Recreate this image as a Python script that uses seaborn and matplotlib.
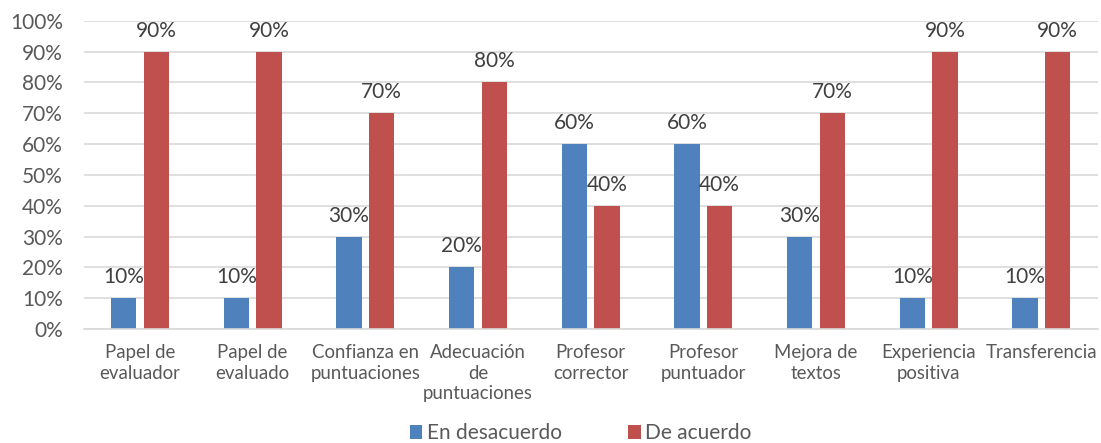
import matplotlib
matplotlib.use("Agg")
import matplotlib.pyplot as plt
import seaborn as sns
import pandas as pd
from matplotlib.ticker import PercentFormatter

categories = ["Papel de\nevaluador", "Papel de\nevaluado", "Confianza en\npuntuaciones",
              "Adecuación\nde\npuntuaciones", "Profesor\ncorrector", "Profesor\npuntuador",
              "Mejora de\ntextos", "Experiencia\npositiva", "Transferencia"]
en_desacuerdo = [10, 10, 30, 20, 60, 60, 30, 10, 10]
de_acuerdo = [90, 90, 70, 80, 40, 40, 70, 90, 90]
series_names = ["En desacuerdo", "De acuerdo"]
colors = ["#4F81BD", "#C0504D"]

df = pd.DataFrame({
    "categoria": categories * 2,
    "serie": [series_names[0]] * len(categories) + [series_names[1]] * len(categories),
    "valor": en_desacuerdo + de_acuerdo,
})

sns.set_theme(style="white")
plt.rcParams["font.family"] = ["Lato", "DejaVu Sans"]
text_color = "#595959"
fs = 15

fig = plt.figure(figsize=(11.01, 4.43), dpi=100)
ax = fig.add_axes([0.076, 0.257, 0.921, 0.696])

sns.barplot(data=df, x="categoria", y="valor", hue="serie", palette=colors,
            width=0.58, gap=0.22, ax=ax, saturation=1, legend=True, linewidth=0)

for container in ax.containers:
    ax.bar_label(container, labels=[f"{v:.0f}%" for v in container.datavalues],
                 padding=8, fontsize=fs, color="#404040")

ax.set_ylim(0, 100)
ax.set_yticks(range(0, 101, 10))
ax.yaxis.set_major_formatter(PercentFormatter(decimals=0))
ax.set_xlim(-0.5, len(categories) - 0.5)
ax.grid(axis="y", color="#D9D9D9", linewidth=1.2)
ax.set_axisbelow(True)
for side in ["top", "right", "left"]:
    ax.spines[side].set_visible(False)
ax.spines["bottom"].set_color("#D9D9D9")
ax.spines["bottom"].set_linewidth(1.2)
ax.tick_params(axis="both", length=0, colors=text_color)
ax.tick_params(axis="y", pad=15, labelsize=fs)
ax.tick_params(axis="x", pad=11, labelsize=13.4)
for lbl in ax.get_xticklabels():
    lbl.set_linespacing(1.25)
ax.set_xlabel("")
ax.set_ylabel("")

ax.legend(loc="lower center", bbox_to_anchor=(0.49, -0.418), ncol=2, frameon=False,
          fontsize=fs, labelcolor=text_color, handlelength=0.6, handleheight=0.6,
          handletextpad=0.2, columnspacing=3.2, borderpad=0.2)

fig.savefig("out.png", dpi=100)
